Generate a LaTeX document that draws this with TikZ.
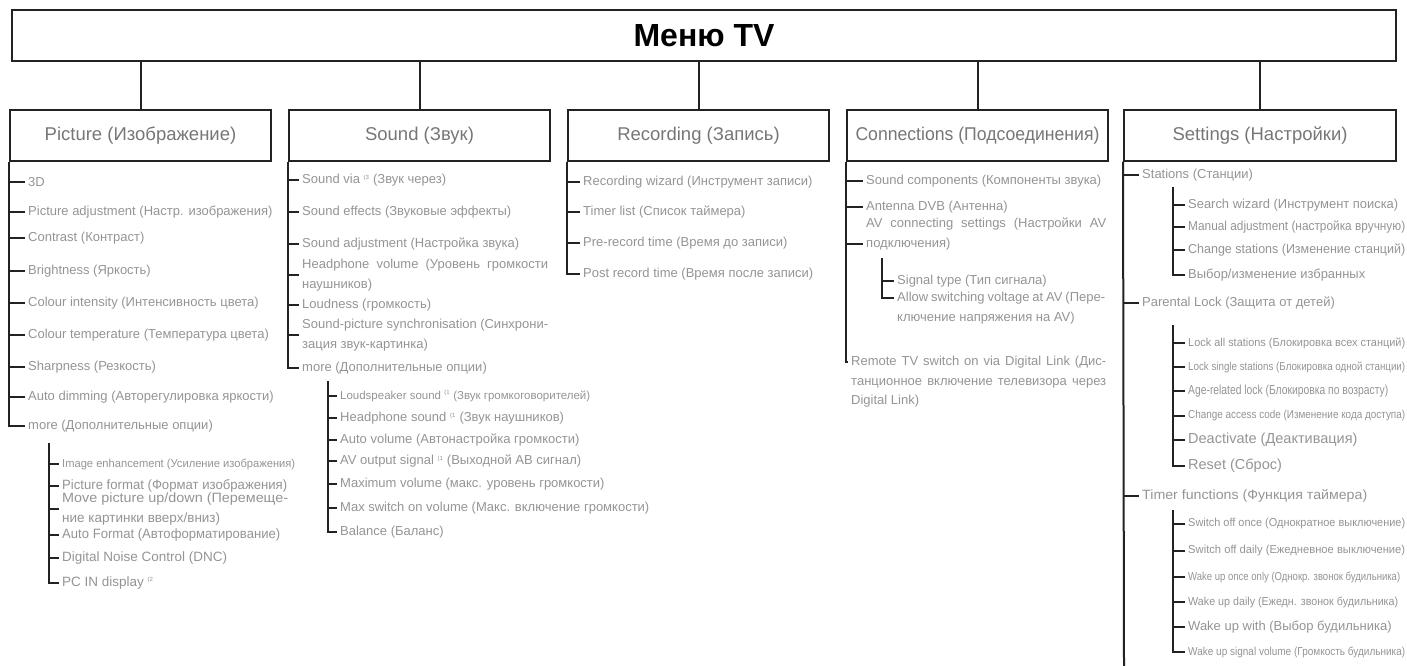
\documentclass[tikz,border=0pt]{standalone}
\usepackage{fontspec}
\setmainfont{Liberation Sans}
\usetikzlibrary{positioning}
\definecolor{ink}{RGB}{34,34,34}
\definecolor{txt}{RGB}{148,148,148}
\definecolor{head}{RGB}{118,118,118}
\newcommand{\fitw}[2]{\resizebox{#1}{\height}{#2}}
\newcommand{\fnm}[1]{\textsuperscript{\fontsize{6}{6}\selectfont(#1}}
\newcommand{\just}[2]{\makebox[#1][s]{#2}}

\begin{document}
\begin{tikzpicture}[x=1pt, y=-1pt,
  every node/.style={inner sep=0pt},
  menubox/.style={draw=ink, line width=2pt, minimum width=1384pt, minimum height=51pt, font=\fontsize{32}{32}\selectfont\bfseries},
  groupbox/.style={draw=ink, line width=2pt, minimum width=261pt, minimum height=50pt, text=head, font=\fontsize{18.5}{18.5}\selectfont},
  item/.style={anchor=west, inner xsep=3pt, text=txt, align=left, font=\fontsize{13}{19.5}\selectfont},
  bigtxt/.style={font=\fontsize{13.5}{19.5}\selectfont},
  smalltxt/.style={font=\fontsize{11.5}{19.5}\selectfont},
  stem/.style={draw=ink, line width=2pt},
  twig/.style={draw=ink, line width=1.5pt}]
\useasboundingbox (0,0) rectangle (1407,666);

% level 0
\node[menubox] (menu) at (704,36) {Меню TV};

% level 1
\node[groupbox] (pic) at (140.5,135.5) {Picture (Изображение)};
\node[groupbox] (snd) at (419.5,135.5) {Sound (Звук)};
\node[groupbox] (rec) at (698.5,135.5) {Recording (Запись)};
\node[groupbox] (con) at (977.5,135.5) {\fitw{244pt}{Connections (Подсоединения)}};
\node[groupbox, minimum width=272pt] (set) at (1260,135.5) {Settings (Настройки)};

\draw[stem] (pic.north) -- (pic.north |- menu.south); \draw[stem] (snd.north) -- (snd.north |- menu.south);
\draw[stem] (rec.north) -- (rec.north |- menu.south); \draw[stem] (con.north) -- (con.north |- menu.south);
\draw[stem] (set.north) -- (set.north |- menu.south);

% picture
\node[item] (p1) at (25,182) {3D};
\node[item] (p2) at (25,212) {Picture adjustment (Настр. изображения)};
\node[item] (p3) at (25,238) {Contrast (Контраст)};
\node[item] (p4) at (25,271) {Brightness (Яркость)};
\node[item] (p5) at (25,303) {Colour intensity (Интенсивность цвета)};
\node[item] (p6) at (25,335) {Colour temperature (Температура цвета)};
\node[item] (p7) at (25,367) {Sharpness (Резкость)};
\node[item] (p8) at (25,397) {Auto dimming (Авторегулировка яркости)};
\node[item] (p9) at (25,426) {more (Дополнительные опции)};
\coordinate (pm) at (49,443);
\node[item, smalltxt] (pc1) at (59,464) {\fitw{233pt}{Image enhancement (Усиление изображения)}};
\node[item, bigtxt] (pc2) at (59,486) {\fitw{225pt}{Picture format (Формат изображения)}};
\node[item, bigtxt] (pc3) at (59,509) {\fitw{226pt}{Move picture up/down (Перемеще-}\\ние картинки вверх/вниз)};
\node[item, bigtxt] (pc4) at (59,535) {\fitw{218pt}{Auto Format (Автоформатирование)}};
\node[item, bigtxt] (pc5) at (59,558) {Digital Noise Control (DNC)};
\node[item, bigtxt] (pc6) at (59,583) {PC IN display \fnm{2}};

\draw[stem] (pic.south west) |- (p9.west);
\draw[stem] (p1.west -| pic.south west) -- (p1.west); \draw[stem] (p2.west -| pic.south west) -- (p2.west);
\draw[stem] (p3.west -| pic.south west) -- (p3.west); \draw[stem] (p4.west -| pic.south west) -- (p4.west);
\draw[stem] (p5.west -| pic.south west) -- (p5.west); \draw[stem] (p6.west -| pic.south west) -- (p6.west);
\draw[stem] (p7.west -| pic.south west) -- (p7.west); \draw[stem] (p8.west -| pic.south west) -- (p8.west);
\draw[twig] (pm) |- (pc6.west);
\draw[twig] (pc1.west -| pm) -- (pc1.west); \draw[twig] (pc2.west -| pm) -- (pc2.west);
\draw[twig] (pc3.west -| pm) -- (pc3.west); \draw[twig] (pc4.west -| pm) -- (pc4.west);
\draw[twig] (pc5.west -| pm) -- (pc5.west);

% sound
\node[item] (s1) at (299,180) {Sound via \fnm{3} (Звук через)};
\node[item] (s2) at (299,212) {Sound effects (Звуковые эффекты)};
\node[item] (s3) at (299,244) {Sound adjustment (Настройка звука)};
\node[item] (s4) at (299,275) {\just{246pt}{Headphone volume (Уровень громкости}\\наушников)};
\node[item] (s5) at (299,305) {Loudness (громкость)};
\node[item] (s6) at (299,335) {\just{246pt}{Sound-picture synchronisation (Синхрони-}\\зация звук-картинка)};
\node[item] (s7) at (299,368) {more (Дополнительные опции)};
\coordinate (sm) at (328,381);
\node[item, smalltxt] (ss1) at (337,396) {\fitw{250pt}{Loudspeaker sound \fnm{1} (Звук громкоговорителей)}};
\node[item] (ss2) at (337,418) {Headphone sound \fnm{1} (Звук наушников)};
\node[item] (ss3) at (337,440) {Auto volume (Автонастройка громкости)};
\node[item] (ss4) at (337,461) {AV output signal \fnm{1} (Выходной АВ сигнал)};
\node[item] (ss5) at (337,484) {Maximum volume (макс. уровень громкости)};
\node[item] (ss6) at (337,508) {Max switch on volume (Макс. включение громкости)};
\node[item] (ss7) at (337,532) {Balance (Баланс)};

\draw[stem] (snd.south west) |- (s7.west);
\draw[stem] (s1.west -| snd.south west) -- (s1.west); \draw[stem] (s2.west -| snd.south west) -- (s2.west);
\draw[stem] (s3.west -| snd.south west) -- (s3.west); \draw[stem] (s4.west -| snd.south west) -- (s4.west);
\draw[stem] (s5.west -| snd.south west) -- (s5.west); \draw[stem] (s6.west -| snd.south west) -- (s6.west);
\draw[twig] (sm) |- (ss7.west);
\draw[twig] (ss1.west -| sm) -- (ss1.west); \draw[twig] (ss2.west -| sm) -- (ss2.west);
\draw[twig] (ss3.west -| sm) -- (ss3.west); \draw[twig] (ss4.west -| sm) -- (ss4.west);
\draw[twig] (ss5.west -| sm) -- (ss5.west); \draw[twig] (ss6.west -| sm) -- (ss6.west);

% recording
\node[item] (r1) at (580,182) {Recording wizard (Инструмент записи)};
\node[item] (r2) at (580,212) {Timer list (Список таймера)};
\node[item] (r3) at (580,243) {Pre-record time (Время до записи)};
\node[item] (r4) at (580,274) {Post record time (Время после записи)};

\draw[stem] (rec.south west) |- (r4.west);
\draw[stem] (r1.west -| rec.south west) -- (r1.west); \draw[stem] (r2.west -| rec.south west) -- (r2.west);
\draw[stem] (r3.west -| rec.south west) -- (r3.west);

% connections
\node[item] (c1) at (863,181) {Sound components (Компоненты звука)};
\node[item] (c2) at (863,207) {Antenna DVB (Антенна)};
\node[item, anchor=north west] (c3) at (863,218) {\just{240pt}{AV connecting settings (Настройки AV}\\подключения)};
\coordinate (cm) at (882,258);
\node[item] (cc1) at (894,281) {Signal type (Тип сигнала)};
\node[item, anchor=north west] (cc2) at (894,292) {\just{208pt}{Allow switching voltage at AV (Пере-}\\ключение напряжения на AV)};
\node[item, anchor=north west] (c4) at (848,356) {\just{255pt}{Remote TV switch on via Digital Link (Дис-}\\\just{255pt}{танционное включение телевизора через}\\Digital Link)};

\draw[stem] (con.south west) |- ([yshift=-6pt]c4.north west);
\draw[stem] (c1.west -| con.south west) -- (c1.west); \draw[stem] (c2.west -| con.south west) -- (c2.west);
\draw[stem] ([yshift=-25.5pt]c3.north west -| con.south west) -- ([yshift=-25.5pt]c3.north west);
\draw[twig] (cm) |- ([yshift=-6pt]cc2.north west);
\draw[twig] (cc1.west -| cm) -- (cc1.west);

% settings
\node[item] (t1) at (1139,175) {Stations (Станции)};
\coordinate (tm1) at (1173,187);
\node[item] (tt1) at (1185,205) {\fitw{210pt}{Search wizard (Инструмент поиска)}};
\node[item] (tt2) at (1185,227) {\fitw{217pt}{Manual adjustment (настройка вручную)}};
\node[item] (tt3) at (1185,250) {\fitw{217pt}{Change stations (Изменение станций)}};
\node[item] (tt4) at (1185,275) {\fitw{177pt}{Выбор/изменение избранных}};
\node[item] (t2) at (1139,303) {Parental Lock (Защита от детей)};
\coordinate (tm2) at (1173,325);
\node[item, smalltxt] (tp1) at (1185,343) {\fitw{217pt}{Lock all stations (Блокировка всех станций)}};
\node[item, smalltxt] (tp2) at (1185,367) {\fitw{217pt}{Lock single stations (Блокировка одной станции)}};
\node[item] (tp3) at (1185,391) {\fitw{200pt}{Age-related lock (Блокировка по возрасту)}};
\node[item, smalltxt] (tp4) at (1185,416) {\fitw{217pt}{Change access code (Изменение кода доступа)}};
\node[item, font=\fontsize{14.5}{17}\selectfont] (tp5) at (1185,440) {Deactivate (Деактивация)};
\node[item, font=\fontsize{14.5}{17}\selectfont] (tp6) at (1185,466) {Reset (Сброс)};
\node[item, bigtxt] (t3) at (1139,496) {\fitw{225pt}{Timer functions (Функция таймера)}};
\coordinate (tm3) at (1173,510);
\node[item, smalltxt] (tf1) at (1185,524) {\fitw{217pt}{Switch off once (Однократное выключение)}};
\node[item, smalltxt] (tf2) at (1185,551) {\fitw{217pt}{Switch off daily (Ежедневное выключение)}};
\node[item, smalltxt] (tf3) at (1185,577) {\fitw{212pt}{Wake up once only (Однокр. звонок будильника)}};
\node[item, smalltxt] (tf4) at (1185,602) {\fitw{210pt}{Wake up daily (Ежедн. звонок будильника)}};
\node[item] (tf5) at (1185,627) {Wake up with (Выбор будильника)};
\node[item, smalltxt] (tf6) at (1185,652) {\fitw{217pt}{Wake up signal volume (Громкость будильника)}};
\coordinate (send) at (1124,666);

\draw[stem] (set.south west) -- (send);
\draw[stem] (t1.west -| set.south west) -- (t1.west); \draw[stem] (t2.west -| set.south west) -- (t2.west);
\draw[stem] (t3.west -| set.south west) -- (t3.west);
\draw[twig] (tm1) |- (tt4.west);
\draw[twig] (tt1.west -| tm1) -- (tt1.west); \draw[twig] (tt2.west -| tm1) -- (tt2.west);
\draw[twig] (tt3.west -| tm1) -- (tt3.west);
\draw[twig] (tm2) |- (tp6.west);
\draw[twig] (tp1.west -| tm2) -- (tp1.west); \draw[twig] (tp2.west -| tm2) -- (tp2.west);
\draw[twig] (tp3.west -| tm2) -- (tp3.west); \draw[twig] (tp4.west -| tm2) -- (tp4.west);
\draw[twig] (tp5.west -| tm2) -- (tp5.west);
\draw[twig] (tm3) |- (tf6.west);
\draw[twig] (tf1.west -| tm3) -- (tf1.west); \draw[twig] (tf2.west -| tm3) -- (tf2.west);
\draw[twig] (tf3.west -| tm3) -- (tf3.west); \draw[twig] (tf4.west -| tm3) -- (tf4.west);
\draw[twig] (tf5.west -| tm3) -- (tf5.west);
\end{tikzpicture}
\end{document}
